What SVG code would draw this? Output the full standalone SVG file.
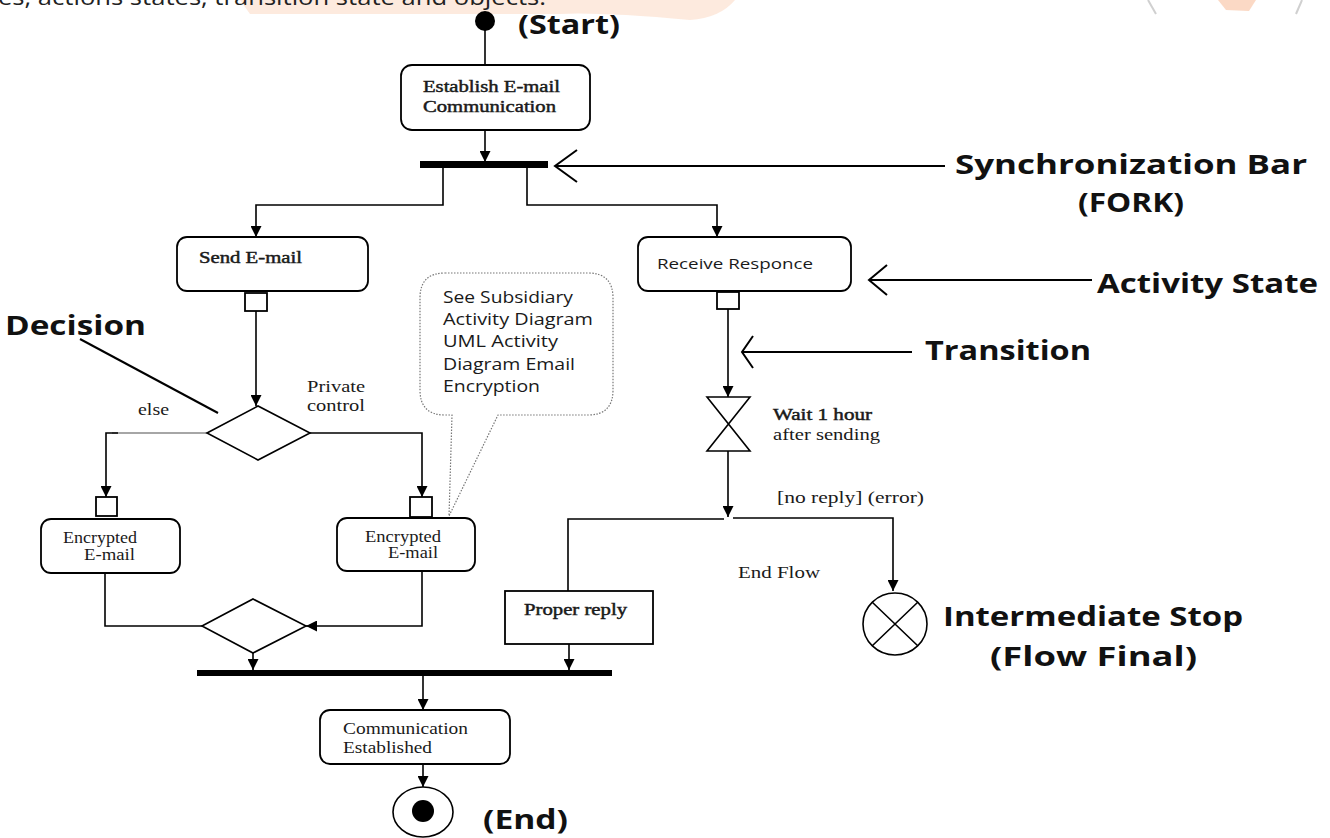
<svg xmlns="http://www.w3.org/2000/svg" width="1330" height="838" viewBox="0 0 1330 838">
<defs>
<marker id="ah" viewBox="0 0 10 10" refX="10" refY="5" markerWidth="11" markerHeight="11" markerUnits="userSpaceOnUse" orient="auto">
<path d="M0,0 L10,5 L0,10 Z" fill="#000"/>
</marker>
<style>
.ln{fill:none;stroke:#000;stroke-width:1.6}
.ar{fill:none;stroke:#000;stroke-width:1.6;marker-end:url(#ah)}
.box{fill:#fff;stroke:#000;stroke-width:1.8}
.pin{fill:#fff;stroke:#000;stroke-width:1.8}
.bar{fill:#000}
.ser{font-family:"Liberation Serif","Times New Roman",serif;font-size:16px;fill:#1a1a1a}
.med{stroke:#1a1a1a;stroke-width:0.45}
.sans{font-family:"Open Sans","Liberation Sans",sans-serif;font-size:15px;fill:#1a1a1a}
.big{font-family:"Open Sans","Liberation Sans",sans-serif;font-weight:bold;font-size:26px;fill:#111}
.ptr{fill:none;stroke:#000;stroke-width:2}
</style>
</defs>
<rect width="1330" height="838" fill="#fff"/>
<g id="watermark">
<path d="M240,0 H735 Q720,18 690,20 Q600,12 560,14 H250 Z" fill="#fde5d6" opacity="0.8"/>
<path d="M1148,0 L1156,14" stroke="#d0d0d0" stroke-width="2"/>
<path d="M1302,0 L1296,14" stroke="#d0d0d0" stroke-width="2"/>
<path d="M1218,0 L1256,0 L1249,11 L1226,10 Z" fill="#f7b48c" opacity="0.5"/>
</g>
<g id="header-text">
<text x="-2" y="5" font-family="'Open Sans','Liberation Sans',sans-serif" font-size="21" fill="#222" textLength="548" lengthAdjust="spacingAndGlyphs">es, actions states, transition state and objects.</text>
</g>
<g id="connectors">
<path class="ln" d="M485,28 V65"/>
<path class="ar" d="M485,130 V162"/>
<path class="ar" d="M443,168 V205 H256 V237"/>
<path class="ar" d="M527,168 V205 H717 V237"/>
<path class="ar" d="M256,311 V406"/>
<path d="M207,433 H112" fill="none" stroke="#888" stroke-width="1.3"/>
<path class="ar" d="M118,433 H106 V497"/>
<path class="ar" d="M310,433 H422 V497"/>
<path class="ln" d="M105,573 V626 H202"/>
<path class="ar" d="M422,571 V626 H306"/>
<path class="ar" d="M253,653 V670"/>
<path class="ar" d="M569,644 V670"/>
<path class="ar" d="M423,676 V710"/>
<path class="ar" d="M423,764 V787"/>
<path class="ar" d="M728,309 V397"/>
<path class="ar" d="M728,451 V517"/>
<path class="ln" d="M568,591 V519 H724"/>
<path class="ar" d="M733,518 H893 V591"/>
</g>
<g id="start">
<circle cx="485" cy="21" r="10" fill="#000"/>
<text x="518" y="34" class="big" textLength="102" lengthAdjust="spacingAndGlyphs">(Start)</text>
</g>
<g id="establish">
<rect class="box" x="401" y="65" width="189" height="65" rx="11"/>
<text class="ser med" x="423" y="92" textLength="137" lengthAdjust="spacingAndGlyphs">Establish E-mail</text>
<text class="ser med" x="423" y="112" textLength="133" lengthAdjust="spacingAndGlyphs">Communication</text>
</g>
<g id="fork">
<rect class="bar" x="420" y="161" width="128" height="7"/>
</g>
<g id="send">
<rect class="box" x="177" y="237" width="191" height="54" rx="10"/>
<text class="ser med" x="199" y="263" textLength="103" lengthAdjust="spacingAndGlyphs">Send E-mail</text>
<rect class="pin" x="245" y="293" width="22" height="18"/>
</g>
<g id="receive">
<rect class="box" x="638" y="237" width="213" height="54" rx="10"/>
<text class="sans" x="657" y="269" textLength="156" lengthAdjust="spacingAndGlyphs">Receive Responce</text>
<rect class="pin" x="717" y="292" width="22" height="17"/>
</g>
<g id="note">
<path d="M445,273 H588 Q613,273 613,298 V390 Q613,415 588,415 H498 L449,516 L452,415 H445 Q420,415 420,390 V298 Q420,273 445,273 Z" fill="#fff" stroke="#777" stroke-width="1.2" stroke-dasharray="1.5 1.5"/>
<g font-family="'Open Sans','Liberation Sans',sans-serif" font-size="16" fill="#1a1a1a">
<text x="443" y="303" textLength="130" lengthAdjust="spacingAndGlyphs">See Subsidiary</text>
<text x="443" y="325" textLength="150" lengthAdjust="spacingAndGlyphs">Activity Diagram</text>
<text x="443" y="347" textLength="115" lengthAdjust="spacingAndGlyphs">UML Activity</text>
<text x="443" y="370" textLength="132" lengthAdjust="spacingAndGlyphs">Diagram Email</text>
<text x="443" y="392" textLength="97" lengthAdjust="spacingAndGlyphs">Encryption</text>
</g>
</g>
<g id="decision">
<path d="M207,433 L258,406 L310,433 L258,460 Z" fill="#fff" stroke="#000" stroke-width="1.6"/>
<text class="ser" x="138" y="415" textLength="31" lengthAdjust="spacingAndGlyphs">else</text>
<text class="ser" x="307" y="392" textLength="58" lengthAdjust="spacingAndGlyphs">Private</text>
<text class="ser" x="307" y="411" textLength="58" lengthAdjust="spacingAndGlyphs">control</text>
</g>
<g id="enc-left">
<rect class="pin" x="96" y="497" width="21" height="19"/>
<rect class="box" x="41" y="519" width="139" height="54" rx="10"/>
<text class="ser" x="63" y="543" textLength="74" lengthAdjust="spacingAndGlyphs">Encrypted</text>
<text class="ser" x="84" y="560" textLength="51" lengthAdjust="spacingAndGlyphs">E-mail</text>
</g>
<g id="enc-right">
<rect class="pin" x="410" y="497" width="22" height="20"/>
<rect class="box" x="337" y="518" width="138" height="53" rx="10"/>
<text class="ser" x="365" y="542" textLength="76" lengthAdjust="spacingAndGlyphs">Encrypted</text>
<text class="ser" x="388" y="558" textLength="50" lengthAdjust="spacingAndGlyphs">E-mail</text>
</g>
<g id="merge">
<path d="M202,626 L253,599 L306,626 L253,653 Z" fill="#fff" stroke="#000" stroke-width="1.6"/>
</g>
<g id="wait">
<path d="M707,397 H750 L707,451 H750 Z" fill="#fff" stroke="#000" stroke-width="1.6" stroke-linejoin="miter"/>
<text class="ser med" x="773" y="420" textLength="99" lengthAdjust="spacingAndGlyphs">Wait 1 hour</text>
<text class="ser" x="773" y="440" textLength="107" lengthAdjust="spacingAndGlyphs">after sending</text>
</g>
<g id="branch-labels">
<text class="ser" x="777" y="503" textLength="147" lengthAdjust="spacingAndGlyphs">[no reply] (error)</text>
<text class="ser" x="738" y="578" textLength="82" lengthAdjust="spacingAndGlyphs">End Flow</text>
</g>
<g id="proper">
<rect class="box" x="505" y="591" width="148" height="53"/>
<text class="ser med" x="524" y="615" textLength="103" lengthAdjust="spacingAndGlyphs">Proper reply</text>
</g>
<g id="flow-final">
<ellipse cx="895" cy="624" rx="32" ry="31" fill="#fff" stroke="#000" stroke-width="1.6"/>
<path class="ln" d="M872,602 L918,646 M918,602 L872,646"/>
</g>
<g id="join">
<rect class="bar" x="197" y="670" width="415" height="6"/>
</g>
<g id="established">
<rect class="box" x="320" y="710" width="190" height="54" rx="10"/>
<text class="ser" x="343" y="734" textLength="125" lengthAdjust="spacingAndGlyphs">Communication</text>
<text class="ser" x="343" y="753" textLength="89" lengthAdjust="spacingAndGlyphs">Established</text>
</g>
<g id="end">
<ellipse cx="423" cy="812" rx="30" ry="25" fill="#fff" stroke="#000" stroke-width="1.6"/>
<circle cx="423" cy="811" r="11" fill="#000"/>
<text x="483" y="829" class="big" font-size="25" textLength="85" lengthAdjust="spacingAndGlyphs">(End)</text>
</g>
<g id="annotations">
<path class="ptr" d="M577,150 L555,166 L577,182 M555,166 H945"/>
<text x="955" y="174" class="big" textLength="352" lengthAdjust="spacingAndGlyphs">Synchronization Bar</text>
<text x="1078" y="212" class="big" textLength="106" lengthAdjust="spacingAndGlyphs">(FORK)</text>
<path class="ptr" d="M887,265 L869,280 L887,295 M869,280 H1092"/>
<text x="1097" y="293" class="big" textLength="221" lengthAdjust="spacingAndGlyphs">Activity  State</text>
<path class="ptr" d="M753,336 L742,352 L753,368 M742,352 H912"/>
<text x="925" y="360" class="big" textLength="166" lengthAdjust="spacingAndGlyphs">Transition</text>
<path class="ptr" d="M80,339 L218,413"/>
<text x="5" y="335" class="big" textLength="141" lengthAdjust="spacingAndGlyphs">Decision</text>
<text x="943" y="626" class="big" textLength="300" lengthAdjust="spacingAndGlyphs">Intermediate Stop</text>
<text x="990" y="666" class="big" textLength="207" lengthAdjust="spacingAndGlyphs">(Flow Final)</text>
</g>
</svg>
